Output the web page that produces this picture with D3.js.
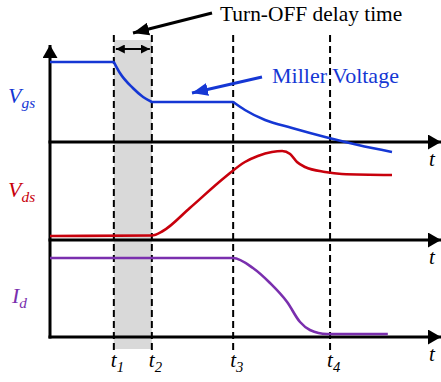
<!DOCTYPE html>
<html>
<head>
<meta charset="utf-8">
<script src="https://cdn.jsdelivr.net/npm/d3@7"></script>
<style>
  html, body { margin: 0; padding: 0; background: #fff; }
  svg { display: block; }
</style>
</head>
<body>
<svg id="chart" width="441" height="382"></svg>
<script>
// Switching instants (arbitrary time units)
const tMarks = [
  { name: "1", t: 16.8 },
  { name: "2", t: 26.8 },
  { name: "3", t: 48.2 },
  { name: "4", t: 73.7 }
];

// Gate-source voltage: plateau, drop to Miller level, plateau, decay
const vgsT = [0, 16.8, 18.4, 21.8, 24.5, 26.8, 48.2, 51.3, 56.6, 63.7, 72.4, 81.1, 90.0];
const vgsV = [8.0, 8.0, 6.9, 5.4, 4.5, 4.0, 4.0, 3.2, 2.2, 1.4, 0.5, -0.3, -1.0];

// Drain-source voltage
const vdsT = [0, 26.8, 29.7, 36.8, 46.1, 51.3, 54.7, 58.4, 61.1, 63.2, 65.0, 67.1, 72.4, 76.8, 90.0];
const vdsV = [0.4, 0.45, 0.9, 3.2, 6.3, 7.8, 8.4, 8.8, 8.9, 8.6, 7.8, 7.3, 6.8, 6.6, 6.5];

// Drain current
const idT = [0, 48.2, 53.4, 57.9, 62.4, 65.8, 68.4, 72.9, 88.9];
const idV = [7.9, 7.9, 6.9, 5.4, 3.5, 1.5, 0.7, 0.3, 0.3];

const colors = { vgs: "#1537d4", vds: "#c8000c", id: "#7a2fae" };
const serif = "Liberation Serif, Times New Roman, DejaVu Serif, serif";

const svg = d3.select("#chart");

const x = d3.scaleLinear().domain([0, 100]).range([50, 430]);
const yVgs = d3.scaleLinear().domain([0, 10]).range([142, 42]);
const yVds = d3.scaleLinear().domain([0, 10]).range([240, 140]);
const yId  = d3.scaleLinear().domain([0, 10]).range([337, 237]);

// Turn-off delay window
svg.append("rect")
  .attr("x", x(tMarks[0].t)).attr("y", 40)
  .attr("width", x(tMarks[1].t) - x(tMarks[0].t)).attr("height", 309)
  .attr("fill", "#d9d9d9");

// Arrow markers
const defs = svg.append("defs");
function marker(id, color, w, h) {
  defs.append("marker")
    .attr("id", id)
    .attr("viewBox", `0 0 ${w} ${h}`)
    .attr("refX", w).attr("refY", h / 2)
    .attr("markerWidth", w).attr("markerHeight", h)
    .attr("markerUnits", "userSpaceOnUse")
    .attr("orient", "auto-start-reverse")
    .append("path")
    .attr("d", `M0,0L${w},${h / 2}L0,${h}Z`)
    .attr("fill", color);
}
marker("axisHead", "#000", 13, 15);
marker("blackHead", "#000", 16, 13);
marker("smallHead", "#000", 9, 9);
marker("blueHead", colors.vgs, 16, 13);

// Dashed time markers
svg.selectAll("line.mark")
  .data(tMarks)
  .join("line")
  .attr("class", "mark")
  .attr("x1", d => x(d.t)).attr("x2", d => x(d.t))
  .attr("y1", 35).attr("y2", 352)
  .attr("stroke", "#000").attr("stroke-width", 2)
  .attr("stroke-dasharray", "7,4");

// Axes
const axisStroke = 3;
svg.append("line")
  .attr("x1", x(0)).attr("x2", x(0))
  .attr("y1", yId(0) + 1.5).attr("y2", 45)
  .attr("stroke", "#000").attr("stroke-width", axisStroke)
  .attr("marker-end", "url(#axisHead)");

[yVgs(0), yVds(0), yId(0)].forEach(yy => {
  svg.append("line")
    .attr("x1", x(0) - 1.5).attr("x2", 441)
    .attr("y1", yy).attr("y2", yy)
    .attr("stroke", "#000").attr("stroke-width", axisStroke)
    .attr("marker-end", "url(#axisHead)");
});

// Waveforms: each piece is interpolated on its own so the corners at
// the switching instants stay sharp
function wave(ts, vs, breaks, yScale, color) {
  const pts = ts.map((t, i) => [t, vs[i]]);
  const line = d3.line()
    .x(d => x(d[0])).y(d => yScale(d[1]))
    .curve(d3.curveMonotoneX);
  let d = "";
  for (let k = 0; k < breaks.length - 1; k++) {
    const seg = pts.filter(p => p[0] >= breaks[k] && p[0] <= breaks[k + 1]);
    const s = line(seg);
    d += k === 0 ? s : "L" + s.slice(1);
  }
  svg.append("path")
    .attr("d", d)
    .attr("fill", "none")
    .attr("stroke", color)
    .attr("stroke-width", 2.6)
    .attr("stroke-linejoin", "round");
}
wave(vgsT, vgsV, [0, 16.8, 26.8, 48.2, 100], yVgs, colors.vgs);
wave(vdsT, vdsV, [0, 100], yVds, colors.vds);
wave(idT, idV, [0, 100], yId, colors.id);

// Delay-time span arrow
svg.append("line")
  .attr("x1", x(tMarks[0].t) + 2).attr("x2", x(tMarks[1].t) - 2)
  .attr("y1", 49).attr("y2", 49)
  .attr("stroke", "#000").attr("stroke-width", 2.2)
  .attr("marker-start", "url(#smallHead)")
  .attr("marker-end", "url(#smallHead)");

// Callout arrows
svg.append("line")
  .attr("x1", 212).attr("y1", 13).attr("x2", 133).attr("y2", 33)
  .attr("stroke", "#000").attr("stroke-width", 3)
  .attr("marker-end", "url(#blackHead)");

svg.append("line")
  .attr("x1", 262).attr("y1", 77).attr("x2", 192).attr("y2", 93)
  .attr("stroke", colors.vgs).attr("stroke-width", 3)
  .attr("marker-end", "url(#blueHead)");

// Callout texts
svg.append("text")
  .attr("x", 220).attr("y", 21)
  .attr("font-family", serif)
  .attr("font-size", 21.4)
  .attr("fill", "#000")
  .text("Turn-OFF delay time");

svg.append("text")
  .attr("x", 272).attr("y", 83)
  .attr("font-family", serif)
  .attr("font-size", 22)
  .attr("fill", colors.vgs)
  .text("Miller Voltage");

// Signal names
function subLabel(xx, yy, main, sub, color, size) {
  const t = svg.append("text")
    .attr("x", xx).attr("y", yy)
    .attr("font-family", serif)
    .attr("font-style", "italic")
    .attr("font-size", size)
    .attr("fill", color);
  t.append("tspan").text(main);
  if (sub) {
    t.append("tspan")
      .attr("font-size", size * 0.7)
      .attr("dy", size * 0.22)
      .text(sub);
  }
}
subLabel(8, 103, "V", "gs", colors.vgs, 22);
subLabel(8, 197, "V", "ds", colors.vds, 22);
subLabel(12, 303, "I", "d", colors.id, 22);

// Time-axis labels
[yVgs(0), yVds(0), yId(0)].forEach(yy => {
  subLabel(429, yy + 24, "t", null, "#000", 21);
});

// Instant labels
tMarks.forEach(m => {
  subLabel(x(m.t) - 3, 367, "t", m.name, "#000", 21);
});
</script>
</body>
</html>
